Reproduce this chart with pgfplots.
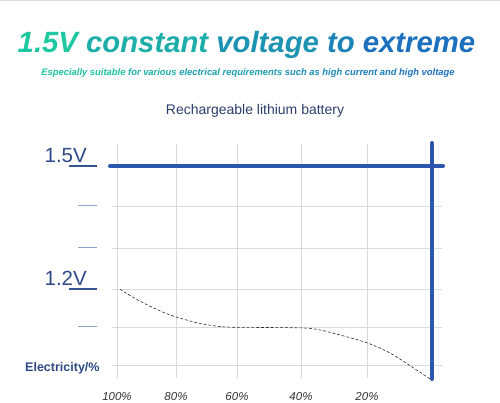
\documentclass[border=0pt]{standalone}
\usepackage{pgfplots}
\pgfplotsset{compat=1.18}
\usepackage{fontspec}
\setmainfont{Liberation Sans}
\definecolor{cA}{HTML}{1FC8A0}
\definecolor{cB}{HTML}{1A6AC0}
\definecolor{lineblue}{HTML}{2B57B0}
\definecolor{navy}{HTML}{2E4A86}
\definecolor{subnavy}{HTML}{2E3F6E}
\definecolor{tickblue}{HTML}{34558F}
\definecolor{ticklight}{HTML}{8FA3C8}
\definecolor{gridc}{HTML}{D9D9D9}
\newcommand{\grad}[2]{\textcolor{cB!#1!cA}{#2}}
\begin{document}
\begin{tikzpicture}[x=1pt,y=1pt]
\useasboundingbox (0,0) rectangle (500,403);
\fill[white] (0,0) rectangle (500,403);
\draw[black!12, line width=1pt] (0,402.5) -- (500,402.5);
\node[anchor=base, inner sep=0, font=\fontsize{29.3}{30}\selectfont\bfseries\itshape] at (246.5,350)
  {\grad{0}{1.5V} \grad{28}{constant} \grad{56}{voltage} \grad{74}{to} \grad{92}{extreme}};
\node[anchor=base, inner sep=0, font=\fontsize{9.4}{11}\selectfont\bfseries\itshape] at (248,327)
  {\grad{5}{Especially suitable} \grad{25}{for various} \grad{45}{electrical requirements} \grad{65}{such as high} \grad{80}{current and} \grad{92}{high voltage}};
\node[anchor=base, inner sep=0, font=\fontsize{14}{16}\selectfont, text=subnavy] at (255,288) {Rechargeable lithium battery};
\begin{axis}[at={(112pt,25pt)}, anchor=south west, scale only axis,
  width=330pt, height=234pt,
  xmin=-5, xmax=325, ymin=0.9673, ymax=1.5553,
  axis line style={draw=none}, major tick length=0pt,
  xtick={0,59,120,184,250}, xticklabels={100\%,80\%,60\%,40\%,20\%},
  ytick={1.0,1.0955,1.191,1.294,1.3995,1.5}, yticklabels={},
  grid=major, grid style={gridc, line width=0.8pt},
  clip=false,
  xticklabel style={font=\fontsize{11.5}{12}\selectfont\itshape, text=black!80, anchor=base, yshift=-23pt},
]
\addplot[black!85, line width=0.6pt, dash pattern=on 2.8pt off 2pt, smooth, tension=0.5] coordinates {
 (3,1.1902) (15,1.1716) (29.7,1.1518) (45,1.1339) (58.7,1.1209) (83,1.1043) (103,1.0967) (119.7,1.0947)
 (150,1.0942) (173,1.0937) (190,1.0925) (203,1.088) (223,1.0754) (249.7,1.056)
 (273,1.0302) (293,0.9982) (314.7,0.9623)};
\addplot[lineblue, line width=4pt, line cap=round] coordinates {(-7,1.5) (326,1.5)};
\addplot[lineblue, line width=4pt, line cap=round] coordinates {(315,1.5578) (315,0.9648)};
\draw[tickblue, line width=1.4pt] (axis cs:-48,1.5) -- (axis cs:-20,1.5);
\draw[tickblue, line width=1.4pt] (axis cs:-48,1.191) -- (axis cs:-20,1.191);
\draw[ticklight, line width=1pt] (axis cs:-39,1.3995) -- (axis cs:-20,1.3995);
\draw[ticklight, line width=1pt] (axis cs:-39,1.294) -- (axis cs:-20,1.294);
\draw[ticklight, line width=1pt] (axis cs:-39,1.0955) -- (axis cs:-20,1.0955);
\end{axis}
\node[anchor=base east, inner sep=0, font=\fontsize{20.5}{22}\selectfont, text=navy] at (87,240) {1.5V};
\node[anchor=base east, inner sep=0, font=\fontsize{20.5}{22}\selectfont, text=navy] at (87,117) {1.2V};
\node[anchor=base west, inner sep=0, font=\fontsize{12.5}{14}\selectfont\bfseries, text=navy] at (25,31) {Electricity/\%};
\end{tikzpicture}
\end{document}
